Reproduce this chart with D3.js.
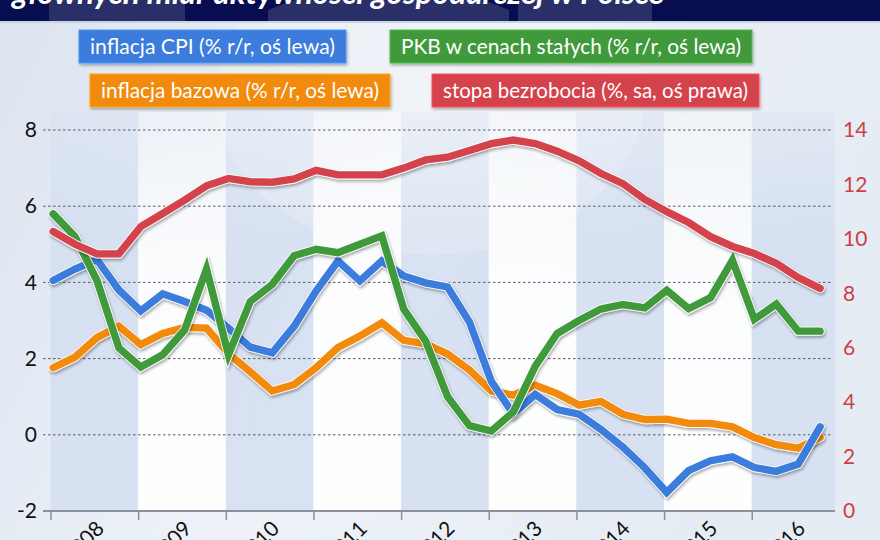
<!DOCTYPE html>
<html><head><meta charset="utf-8">
<script src="https://cdn.jsdelivr.net/npm/d3@7"></script>
<style>body{margin:0;background:#e9eef5}svg{display:block}</style>
</head><body><svg id="c" width="880" height="540"></svg>
<script>
const title = "głównych miar aktywności gospodarczej w Polsce";
const years = [2008, 2009, 2010, 2011, 2012, 2013, 2014, 2015, 2016];
const quarterNums = [1, 2, 3, 4];
const quarters = years.flatMap(y => quarterNums.map(q => ({year: y, q: q})));
const cpi = [4.05, 4.35, 4.6, 3.8, 3.25, 3.7, 3.5, 3.27, 2.8, 2.3, 2.15, 2.85,
             3.77, 4.56, 4.04, 4.56, 4.17, 3.99, 3.88, 2.96, 1.4, 0.55, 1.06, 0.66,
             0.54, 0.14, -0.32, -0.87, -1.51, -0.94, -0.68, -0.58, -0.86, -0.96, -0.77, 0.21];
const core = [1.76, 2.04, 2.55, 2.85, 2.37, 2.66, 2.82, 2.8, 2.13, 1.65, 1.15, 1.32,
              1.76, 2.29, 2.59, 2.94, 2.48, 2.39, 2.12, 1.7, 1.15, 1.04, 1.3, 1.08,
              0.78, 0.88, 0.54, 0.4, 0.41, 0.3, 0.3, 0.21, -0.07, -0.26, -0.35, -0.07];
const gdp = [5.8, 5.2, 4.05, 2.28, 1.78, 2.1, 2.75, 4.35, 2.1, 3.5, 3.95, 4.7,
             4.87, 4.78, 5.0, 5.22, 3.3, 2.46, 1.0, 0.24, 0.1, 0.6, 1.8, 2.66,
             3.0, 3.3, 3.42, 3.33, 3.79, 3.31, 3.6, 4.58, 3.03, 3.43, 2.72, 2.72];
const unemployment = [10.27, 9.8, 9.45, 9.45, 10.45, 10.93, 11.42, 11.95, 12.22, 12.1, 12.08, 12.2,
                      12.52, 12.35, 12.35, 12.35, 12.6, 12.9, 13.0, 13.25, 13.5, 13.63, 13.5, 13.22,
                      12.87, 12.4, 12.03, 11.45, 11.0, 10.6, 10.08, 9.72, 9.46, 9.1, 8.58, 8.18];
const leftTicks = [-2, 0, 2, 4, 6, 8];
const rightTicks = [0, 2, 4, 6, 8, 10, 12, 14];
const legendLabels = ["inflacja CPI (% r/r, oś lewa)", "PKB w cenach stałych (% r/r, oś lewa)",
                      "inflacja bazowa (% r/r, oś lewa)", "stopa bezrobocia (%, sa, oś prawa)"];

const C = {blue: "#3a7bdc", green: "#3f9a3b", orange: "#f18a0c", red: "#d4434b"};
const svg = d3.select("#c");
const defs = svg.append("defs");

const bg = defs.append("linearGradient").attr("id", "bg").attr("x1", 0).attr("x2", 1).attr("y1", 0).attr("y2", 0.3);
bg.append("stop").attr("offset", 0).attr("stop-color", "#dce4f0");
bg.append("stop").attr("offset", 0.5).attr("stop-color", "#eef2f8");
bg.append("stop").attr("offset", 1).attr("stop-color", "#e6ecf4");
const band = defs.append("linearGradient").attr("id", "band").attr("x1", 0).attr("x2", 0).attr("y1", 0).attr("y2", 1);
band.append("stop").attr("offset", 0).attr("stop-color", "#d3def0").attr("stop-opacity", 0.3);
band.append("stop").attr("offset", 0.3).attr("stop-color", "#d3def0").attr("stop-opacity", 0.8);
band.append("stop").attr("offset", 1).attr("stop-color", "#d6e0f1").attr("stop-opacity", 0.9);
const band2 = defs.append("linearGradient").attr("id", "band2").attr("x1", 0).attr("x2", 0).attr("y1", 0).attr("y2", 1);
band2.append("stop").attr("offset", 0).attr("stop-color", "#ffffff").attr("stop-opacity", 0.3);
band2.append("stop").attr("offset", 0.4).attr("stop-color", "#ffffff").attr("stop-opacity", 0.85);
band2.append("stop").attr("offset", 1).attr("stop-color", "#ffffff").attr("stop-opacity", 0.95);
const sh = defs.append("filter").attr("id", "sh").attr("x", "-5%").attr("y", "-10%").attr("width", "110%").attr("height", "130%");
sh.append("feDropShadow").attr("dx", 1).attr("dy", 2).attr("stdDeviation", 1.6).attr("flood-color", "#000").attr("flood-opacity", 0.35);
const bsh = defs.append("filter").attr("id", "bsh").attr("x", "-5%").attr("y", "-10%").attr("width", "110%").attr("height", "140%");
bsh.append("feDropShadow").attr("dx", 1).attr("dy", 2).attr("stdDeviation", 1.5).attr("flood-color", "#000").attr("flood-opacity", 0.3);

svg.append("rect").attr("width", 880).attr("height", 540).attr("fill", "url(#bg)");

// scales
const x = d3.scaleLinear().domain([2008, 2016.95]).range([50.5, 835]);
const qTime = d => d.year + (d.q - 1) / 4 + 0.03;
const yL = d3.scaleLinear().domain([-2, 8]).range([511, 130]);
const yR = d3.scaleLinear().domain([0, 14]).range([511, 130]);

// year bands
svg.append("g").selectAll("rect").data(years).join("rect")
  .attr("x", d => x(d)).attr("y", 112)
  .attr("width", d => Math.min(x(d + 1), x(2016.95)) - x(d))
  .attr("height", 511 - 112)
  .attr("fill", (d, i) => i % 2 === 0 ? "url(#band)" : "url(#band2)");

// faint watermark
svg.append("ellipse").attr("cx", 430).attr("cy", 95).attr("rx", 215).attr("ry", 160)
  .attr("fill", "#ffffff").attr("opacity", 0.18);

// banner
svg.append("rect").attr("width", 880).attr("height", 21).attr("fill", "#080d50");
svg.append("rect").attr("x", 49).attr("width", 136).attr("height", 21).attr("fill", "#ffffff").attr("opacity", 0.14);
svg.append("rect").attr("x", 518).attr("width", 134).attr("height", 21).attr("fill", "#ffffff").attr("opacity", 0.14);
svg.append("path").attr("d", "M268,21 L268,10 Q390,-40 509,10 L509,21 Z").attr("fill", "#ffffff").attr("opacity", 0.14);
svg.append("rect").attr("y", 21).attr("width", 880).attr("height", 2).attr("fill", "#c9d3e6");
svg.append("text").attr("x", 12).attr("y", 4).text(title)
  .attr("textLength", 652).attr("lengthAdjust", "spacingAndGlyphs")
  .attr("font-family", "Lato, 'Open Sans', sans-serif").attr("font-weight", 700).attr("font-style", "italic")
  .attr("font-size", 30).attr("fill", "#ffffff");

// gridlines
svg.append("g").selectAll("line").data(leftTicks.filter(t => t > -2)).join("line")
  .attr("x1", 43).attr("x2", 833).attr("y1", d => yL(d)).attr("y2", d => yL(d))
  .attr("stroke", "#555a66").attr("stroke-width", 1).attr("stroke-dasharray", "2.5,2.5");

// x axis
const xAxis = svg.append("g").attr("transform", "translate(0,511)")
  .call(d3.axisBottom(x).tickValues(years).tickSize(9).tickFormat(""));
xAxis.select(".domain").remove();
xAxis.selectAll(".tick line").attr("stroke", "#8a909c").attr("stroke-width", 1.5);
svg.append("line").attr("x1", 43).attr("x2", 835).attr("y1", 511).attr("y2", 511)
  .attr("stroke", "#8a909c").attr("stroke-width", 2);
svg.append("g").selectAll("text").data(years).join("text")
  .attr("transform", d => `translate(${x(d + 0.5) + 11},530) rotate(-45)`)
  .attr("text-anchor", "end").text(d => d)
  .attr("font-family", "Lato, sans-serif").attr("font-size", 21).attr("fill", "#111");

// left axis
const la = svg.append("g").attr("transform", "translate(43,0)")
  .call(d3.axisLeft(yL).tickValues(leftTicks).tickSize(0).tickPadding(6).tickFormat(d => String(d)));
la.select(".domain").remove();
la.selectAll("text").attr("font-family", "Lato, sans-serif").attr("font-size", 21).attr("fill", "#111");

// right axis
const ra = svg.append("g").attr("transform", "translate(835,0)")
  .call(d3.axisRight(yR).tickValues(rightTicks).tickSize(0).tickPadding(8).tickFormat(d => String(d)));
ra.select(".domain").remove();
ra.selectAll("text").attr("font-family", "Lato, sans-serif").attr("font-size", 21).attr("fill", "#cf3f45");

// lines
const series = [
  {v: core, c: C.orange, y: yL},
  {v: cpi, c: C.blue, y: yL},
  {v: gdp, c: C.green, y: yL},
  {v: unemployment, c: C.red, y: yR}
];
const lg = svg.append("g");
series.forEach(s => {
  const line = d3.line().x((d, i) => x(qTime(quarters[i]))).y(d => s.y(d));
  const g = lg.append("g").attr("filter", "url(#sh)");
  g.append("path").attr("d", line(s.v)).attr("fill", "none").attr("stroke", "#ffffff")
    .attr("stroke-width", 9.2).attr("stroke-linejoin", "miter").attr("stroke-miterlimit", 5).attr("stroke-linecap", "round").attr("opacity", 0.9);
  g.append("path").attr("d", line(s.v)).attr("fill", "none").attr("stroke", s.c)
    .attr("stroke-width", 7.4).attr("stroke-linejoin", "miter").attr("stroke-miterlimit", 5).attr("stroke-linecap", "round");
});

// legend
const legend = [
  {t: legendLabels[0], c: C.blue, x: 79, y: 30, w: 267},
  {t: legendLabels[1], c: C.green, x: 390, y: 30, w: 362},
  {t: legendLabels[2], c: C.orange, x: 90, y: 74, w: 300},
  {t: legendLabels[3], c: C.red, x: 432, y: 74, w: 327}
];
legend.forEach(l => {
  const g = svg.append("g");
  g.append("rect").attr("x", l.x).attr("y", l.y).attr("height", 33).attr("width", l.w).attr("fill", l.c)
    .attr("stroke", d3.color(l.c).brighter(0.6)).attr("stroke-width", 1).attr("filter", "url(#bsh)");
  g.append("text").attr("x", l.x + 11).attr("y", l.y + 24).text(l.t)
    .attr("textLength", l.w - 22).attr("lengthAdjust", "spacingAndGlyphs")
    .attr("font-family", "Lato, sans-serif").attr("font-size", 21).attr("fill", "#ffffff");
});
</script></body></html>
